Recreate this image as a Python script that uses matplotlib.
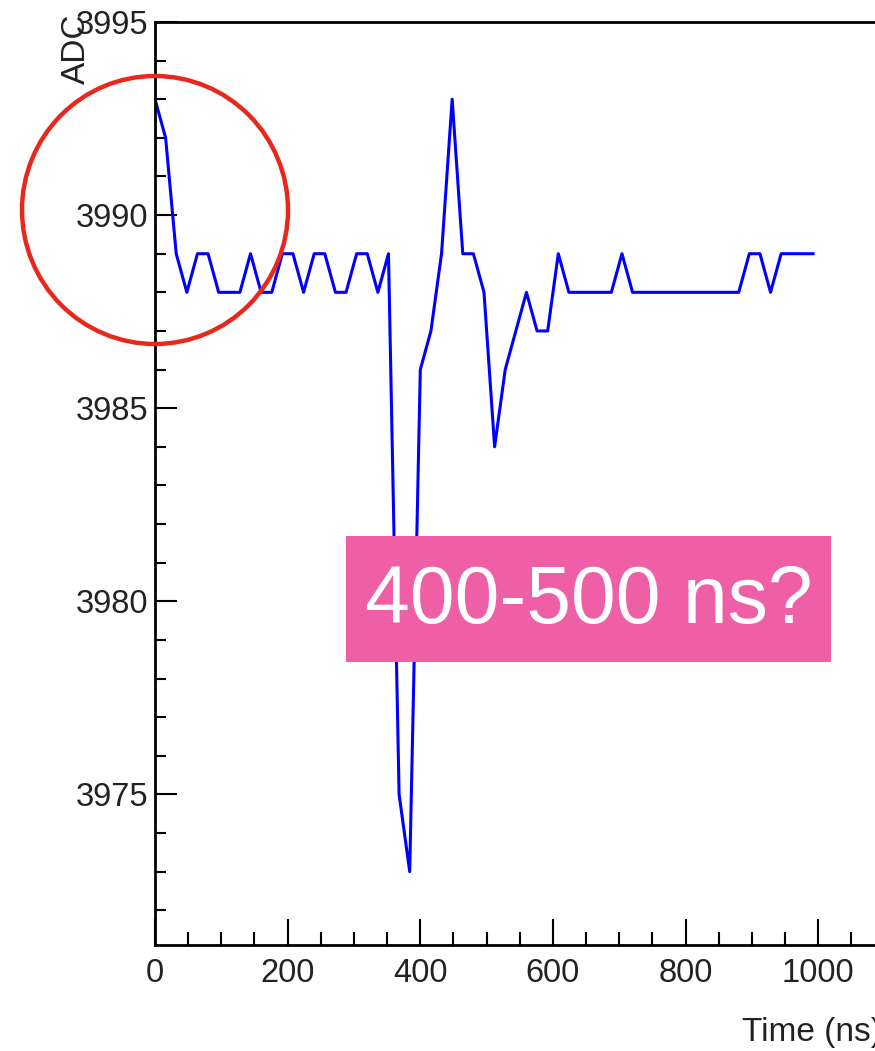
"""ADC waveform vs time, with annotation"""
import matplotlib
matplotlib.use("Agg")
import matplotlib.pyplot as plt
from matplotlib.patches import Ellipse, Rectangle
from matplotlib.ticker import MultipleLocator
import numpy as np

plt.rcParams['font.family'] = ['Liberation Sans', 'DejaVu Sans']

# sample clock: one sample every 16 ns
tempo = np.arange(0, 1000, 16)

# ADC counts
adc = [3993, 3992, 3989, 3988, 3989, 3989, 3988, 3988, 3988, 3989,
       3988, 3988, 3989, 3989, 3988, 3989, 3989, 3988, 3988, 3989,
       3989, 3988, 3989, 3975, 3973, 3986, 3987, 3989, 3993, 3989,
       3989, 3988, 3984, 3986, 3987, 3988, 3987, 3987, 3989, 3988,
       3988, 3988, 3988, 3988, 3989, 3988, 3988, 3988, 3988, 3988,
       3988, 3988, 3988, 3988, 3988, 3988, 3989, 3989, 3988, 3989,
       3989, 3989, 3989]

nota = "400-500 ns?"

W, H = 875, 1051
fig = plt.figure(figsize=(W / 100, H / 100), dpi=100)
ax = fig.add_axes([155 / W, 1 - 945 / H, (878 - 155) / W, (945 - 22) / H])

ax.plot(tempo, adc, color='#0000ff', lw=2.2)

ax.set_xlim(0, 1090)
ax.set_ylim(3971.1, 3995)
ax.xaxis.set_major_locator(MultipleLocator(200))
ax.xaxis.set_minor_locator(MultipleLocator(50))
ax.yaxis.set_major_locator(MultipleLocator(5))
ax.yaxis.set_minor_locator(MultipleLocator(1))

ax.tick_params(axis='x', which='major', direction='in', length=19, width=1.5,
               labelsize=23.5, pad=9, labelcolor='#222222')
ax.tick_params(axis='x', which='minor', direction='in', length=9.5, width=1.5)
ax.tick_params(axis='y', which='major', direction='in', length=16, width=1.5,
               labelsize=23.5, pad=5, labelcolor='#222222')
ax.tick_params(axis='y', which='minor', direction='in', length=8, width=1.5)

for lado in ['left', 'bottom', 'top']:
    ax.spines[lado].set_linewidth(2)
ax.spines['right'].set_visible(False)

# axis titles, ROOT style
fig.text(76 / W, 1 - 14 / H, "ADC", rotation=90, ha='center', va='top',
         fontsize=24, color='#222222')
fig.text(882 / W, 1 - 1033 / H, "Time (ns)", ha='right', va='center',
         fontsize=24, color='#222222')

# red circle round the start of the trace
fig.add_artist(Ellipse((155 / W, 1 - 210 / H), 266 / W, 268 / H,
                       transform=fig.transFigure, fill=False,
                       ec='#e8281c', lw=3.2))

# pink label box
fig.add_artist(Rectangle((346 / W, 1 - 662 / H), (831 - 346) / W, (662 - 536) / H,
                         transform=fig.transFigure, fc='#ee5fa6', ec='none'))
fig.text((346 + 831) / 2 / W, 1 - 602 / H, nota, ha='center', va='center',
         fontsize=58, color='white')

fig.savefig("out.png", dpi=100)
